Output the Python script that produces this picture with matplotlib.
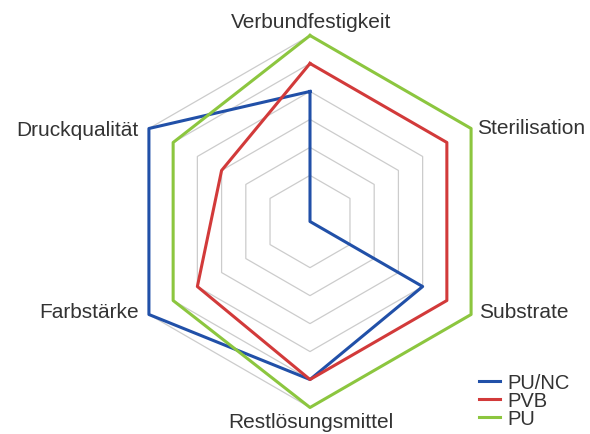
import numpy as np
import matplotlib.pyplot as plt

plt.rcParams['font.family'] = ['Liberation Sans', 'DejaVu Sans']

# axes, clockwise from the top
categories = ["Verbundfestigkeit", "Sterilisation", "Substrate",
              "Restlösungsmittel", "Farbstärke", "Druckqualität"]
series_names = ["PU/NC", "PVB", "PU"]
pu_nc = [4, -0.65, 4, 5, 6, 6]
pvb = [5, 5, 5, 5, 4, 3]
pu = [6, 6, 6, 6, 5, 5]
rings = [1, 2, 3, 4, 5, 6]

colors = ["#2150a8", "#d23a3a", "#8cc63f"]

fig = plt.figure(figsize=(5.9, 4.35), dpi=100)
ax = fig.add_axes([124 / 590, (212.5 - 186) / 435, 372 / 590, 372 / 435],
                  projection="polar")
ax.set_theta_zero_location("N")
ax.set_theta_direction(-1)
ax.set_ylim(-0.65, 6)
ax.grid(False)
ax.set_xticks([])
ax.set_yticks([])
ax.spines["polar"].set_visible(False)
ax.patch.set_alpha(0)

angles = np.linspace(0, 2 * np.pi, len(categories), endpoint=False)
closed = np.append(angles, angles[0])

for r in rings:
    ax.plot(closed, [r] * len(closed), color="#cccccc", lw=0.9, zorder=1)

for name, vals, c in zip(series_names, [pu_nc, pvb, pu], colors):
    ax.plot(closed, vals + vals[:1], color=c, lw=2.2, label=name,
            zorder=3, clip_on=False)

label_pos = [(311, 23, "center"), (477, 129, "left"), (479, 313, "left"),
             (311, 423, "center"), (139, 313, "right"), (139, 131, "right")]
for cat, (x, y, ha) in zip(categories, label_pos):
    fig.text(x / 590, 1 - y / 435, cat, ha=ha, va="center",
             fontsize=15, color="#333333")

ax.legend(loc="lower left", bbox_to_anchor=(479 / 590, 6 / 435),
          bbox_transform=fig.transFigure, frameon=False, fontsize=14.5,
          handlelength=1.05, handletextpad=0.35, labelspacing=-0.05,
          borderpad=0, borderaxespad=0, labelcolor="#333333")

fig.savefig("out.png", dpi=100)
